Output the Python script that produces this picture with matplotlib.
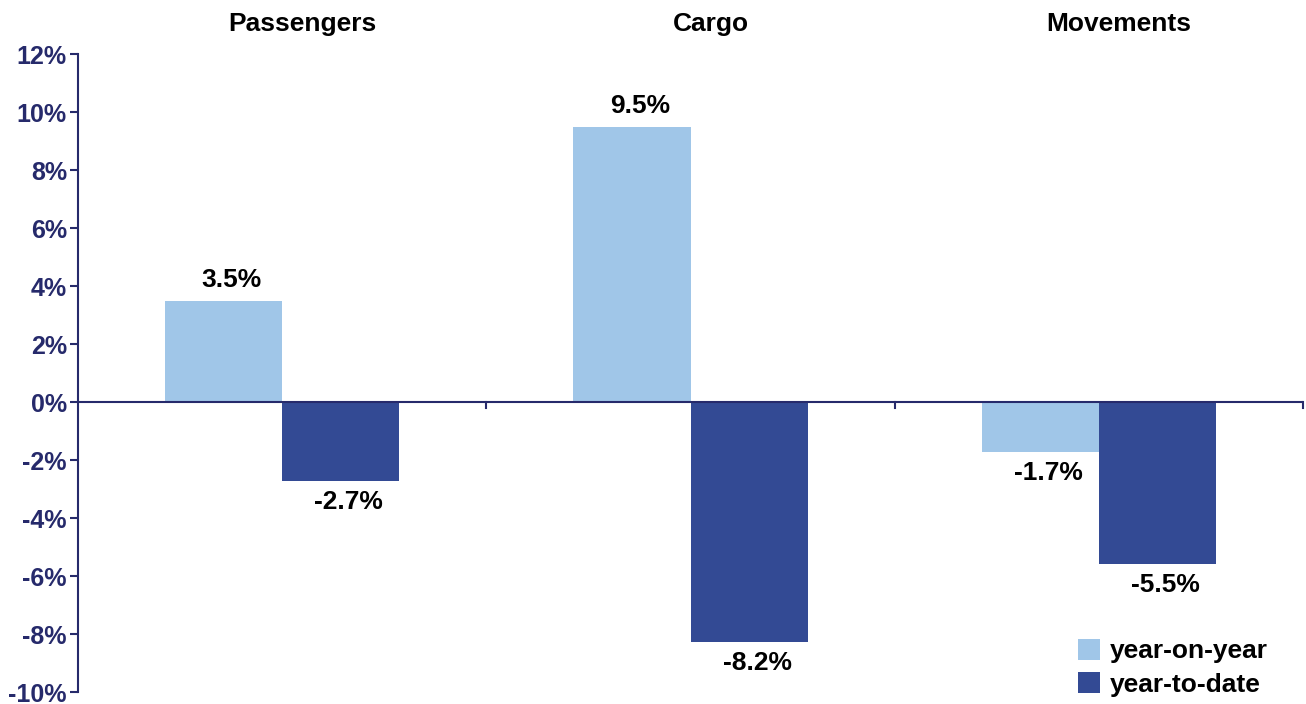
import matplotlib.pyplot as plt
import matplotlib.transforms as mtransforms
import numpy as np

plt.rcParams['font.family'] = ['Liberation Sans', 'DejaVu Sans']
plt.rcParams['font.weight'] = 'bold'

categories = ["Passengers", "Cargo", "Movements"]
year_on_year = [3.5, 9.5, -1.72]
year_to_date = [-2.72, -8.28, -5.58]
yoy_labels = ["3.5%", "9.5%", "-1.7%"]
ytd_labels = ["-2.7%", "-8.2%", "-5.5%"]
y_ticks = [-10, -8, -6, -4, -2, 0, 2, 4, 6, 8, 10, 12]

light = "#A0C6E8"
dark = "#334A94"
navy = "#262A6B"

fig = plt.figure(figsize=(13.06, 7.04), dpi=100)
ax = fig.add_axes([78 / 1306, 12 / 704, (1303 - 78) / 1306, 638 / 704])

x = np.arange(len(categories)) + 0.5
w = 0.287
b1 = ax.bar(x - w / 2, year_on_year, w, color=light, label="year-on-year")
b2 = ax.bar(x + w / 2, year_to_date, w, color=dark, label="year-to-date")

# labels sit a little right of the bar centre, like the original
for bars, labels in ((b1, yoy_labels), (b2, ytd_labels)):
    for r, lab in zip(bars, labels):
        v = r.get_height()
        cx = r.get_x() + r.get_width() / 2 + 0.02
        if v >= 0:
            ax.text(cx, v + 0.3, lab, ha="center", va="bottom", fontsize=19, fontweight="bold")
        else:
            ax.text(cx, v - 0.3, lab, ha="center", va="top", fontsize=19, fontweight="bold")

ax.set_xlim(0, 3)
ax.set_ylim(-10, 12)
ax.set_yticks(y_ticks)
ax.set_yticklabels([f"{t}%" for t in y_ticks])
ax.tick_params(axis="y", colors=navy, labelsize=18, length=6, width=1.5, direction="out", pad=2)
for lab in ax.get_yticklabels():
    lab.set_fontweight("bold")
    lab.set_color(navy)

ax.set_xticks([])
for s in ["top", "right", "bottom"]:
    ax.spines[s].set_visible(False)
ax.spines["left"].set_color(navy)
ax.spines["left"].set_linewidth(1.5)

ax.axhline(0, color=navy, lw=1.5, zorder=3)
for gx in [1, 2, 3]:
    ax.plot([gx, gx], [0, -0.2], color=navy, lw=1.5, clip_on=False, zorder=3)

trans = mtransforms.blended_transform_factory(ax.transData, fig.transFigure)
for i, c in enumerate(categories):
    ax.text(x[i] + 0.05, 1 - 24 / 704, c, transform=trans, ha="center", va="center",
            fontsize=19, fontweight="bold")

ax.legend(loc="lower right", frameon=False, fontsize=19, handlelength=0.85, handleheight=0.85,
          handletextpad=0.35, labelspacing=0.35, borderaxespad=0.0, borderpad=0.0,
          bbox_to_anchor=(0.971, -0.008))

fig.savefig("out.png", dpi=100)
